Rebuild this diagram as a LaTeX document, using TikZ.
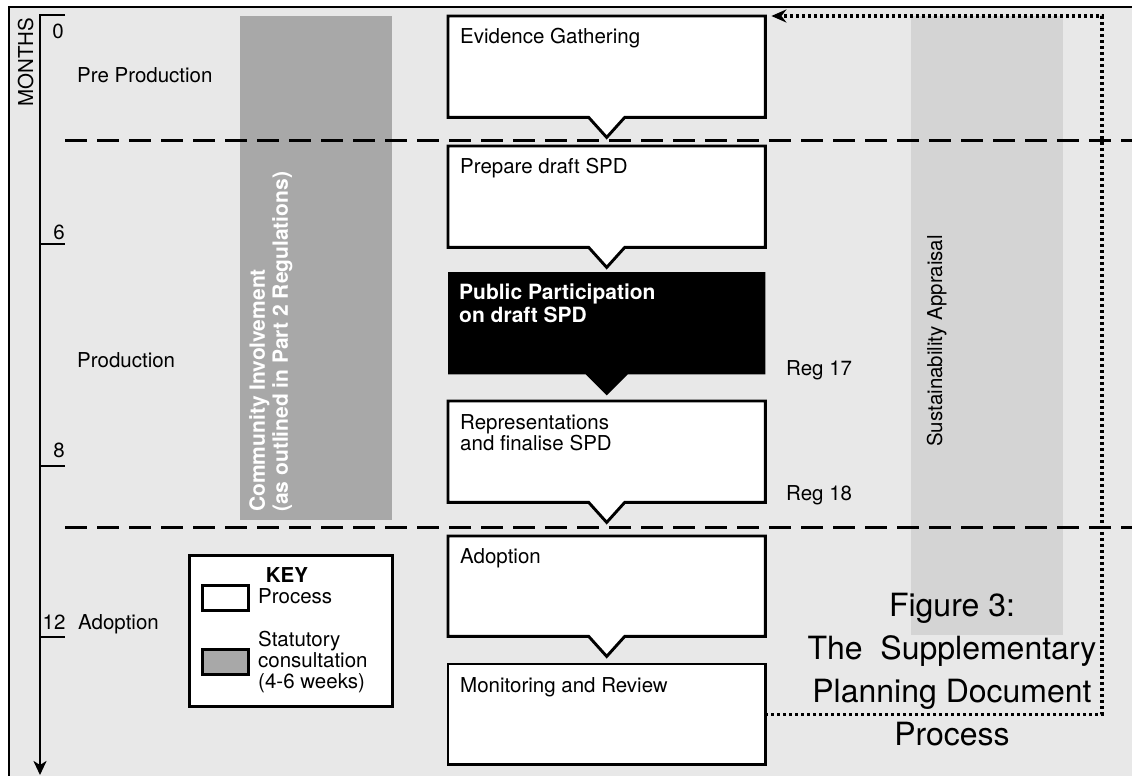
\documentclass[tikz,border=0pt]{standalone}
\usepackage{fontspec}
\setmainfont{TeX Gyre Heros}
\usetikzlibrary{arrows.meta,calc}
\pgfdeclarelayer{bg}
\pgfdeclarelayer{mid}
\pgfsetlayers{bg,mid,main}
\definecolor{panel}{HTML}{E8E8E8}
\definecolor{ciGray}{HTML}{A8A8A8}
\definecolor{saGray}{HTML}{D4D4D4}
\begin{document}
\begin{tikzpicture}[x=1pt,y=-1pt,
  font=\fontsize{20.5}{21.5}\selectfont,
  pbox/.style={rectangle, draw=none, anchor=north west, inner sep=0pt, minimum width=317pt, minimum height=#1},
  ptxt/.style={anchor=north west, inner sep=0pt, align=left},
  bline/.style={line width=2.9pt, line join=miter, draw=black},
  lbl/.style={inner sep=0pt},
  sepline/.style={line width=3pt, dash pattern=on 22pt off 10pt},
  fbline/.style={line width=3.2pt, dash pattern=on 3pt off 3pt, -{Stealth[length=15pt,width=13pt,inset=5pt]}},
  swatch/.style={rectangle, draw, line width=2.9pt, anchor=north west, minimum width=46pt, minimum height=25pt, inner sep=0pt}
]
\useasboundingbox (0,0) rectangle (1132,776);
\clip (0,0) rectangle (1132,776);

% ---------------- background, bars, separators
\begin{pgfonlayer}{bg}
  \fill[white] (0,0) rectangle (1132,776);
  \draw[fill=panel, line width=2.9pt] (9,7) rectangle (1150,800);
  \fill[ciGray] (240,16) rectangle (392,520);
  \fill[saGray] (911,16) rectangle (1063,635);
  \draw[sepline] (65,140) -- (1140,140);
  \draw[sepline] (65,527) -- (1140,527);
\end{pgfonlayer}

% ---------------- time axis
\draw[line width=2.9pt, line join=miter, -{Stealth[length=14pt,width=13pt,inset=4pt]}] (65,15) -- (40,15) -- (40,775);
\draw[line width=2.6pt] (40,244) -- (65,244);
\draw[line width=2.6pt] (40,466) -- (65,466);
\draw[line width=2.6pt] (40,637) -- (65,637);
\node[lbl, rotate=90, anchor=base west] (months) at (33,107) {MONTHS};
\node[lbl, anchor=base] (m0) at (58,38.5) {0};
\node[lbl, anchor=base] (m6) at (59,239) {6};
\node[lbl, anchor=base] (m8) at (59,457) {8};
\node[lbl, anchor=base] (m12) at (54,629) {12};

\node[lbl, anchor=base west] (prepro) at (77,82) {Pre Production};
\node[lbl, anchor=base west] (pro) at (77,367) {Production};
\node[lbl, anchor=base west] (adopt) at (78,629) {Adoption};

% ---------------- bar labels
\node[rotate=90, anchor=north west, inner sep=0pt, align=left, text=white,
      font=\bfseries\fontsize{21}{23}\selectfont] (ci) at (249,512)
      {Community Involvement\\(as outlined in Part 2 Regulations)};
\node[lbl, rotate=90, anchor=base west, font=\fontsize{20.5}{22}\selectfont] (sa) at (942,447) {Sustainability Appraisal};

% ---------------- process boxes
\node[pbox=101pt] (evid) at (448,16) {};
\node[pbox=101pt] (prep) at (448,146) {};
\node[pbox=102pt] (pub)  at (448,272) {};
\node[pbox=101pt] (repr) at (448,401) {};
\node[pbox=100pt] (adop) at (448,536) {};
\node[pbox=100pt] (mon)  at (448,664) {};

\begin{pgfonlayer}{mid}
  \draw[bline, fill=white] (evid.north west) -- (evid.north east) -- (evid.south east)
     -- ([xshift=18pt]evid.south) -- ([yshift=-20pt]evid.south) -- ([xshift=-18pt]evid.south)
     -- (evid.south west) -- cycle;
  \draw[bline, fill=white] (prep.north west) -- (prep.north east) -- (prep.south east)
     -- ([xshift=18pt]prep.south) -- ([yshift=-20pt]prep.south) -- ([xshift=-18pt]prep.south)
     -- (prep.south west) -- cycle;
  \fill[black] (pub.north west) -- (pub.north east) -- (pub.south east)
     -- ([xshift=21pt]pub.south) -- ([yshift=-21pt]pub.south) -- ([xshift=-21pt]pub.south)
     -- (pub.south west) -- cycle;
  \draw[bline, fill=white] (repr.north west) -- (repr.north east) -- (repr.south east)
     -- ([xshift=18pt]repr.south) -- ([yshift=-20pt]repr.south) -- ([xshift=-18pt]repr.south)
     -- (repr.south west) -- cycle;
  \draw[bline, fill=white] (adop.north west) -- (adop.north east) -- (adop.south east)
     -- ([xshift=18pt]adop.south) -- ([yshift=-20pt]adop.south) -- ([xshift=-18pt]adop.south)
     -- (adop.south west) -- cycle;
  \draw[bline, fill=white] (mon.north west) rectangle (mon.south east);
\end{pgfonlayer}

\node[ptxt] (evidT) at ([shift={(12,12)}]evid.north west) {Evidence Gathering};
\node[ptxt] (prepT) at ([shift={(12,12)}]prep.north west) {Prepare draft SPD};
\node[ptxt, text=white, font=\bfseries\fontsize{21}{23}\selectfont] (pubT) at ([shift={(11,12)}]pub.north west) {Public Participation\\on draft SPD};
\node[ptxt] (reprT) at ([shift={(12,13)}]repr.north west) {Representations\\and finalise SPD};
\node[ptxt] (adopT) at ([shift={(12,12)}]adop.north west) {Adoption};
\node[ptxt] (monT) at ([shift={(12,13)}]mon.north west) {Monitoring and Review};

\node[lbl, anchor=base west] (reg17) at (786,375) {Reg 17};
\node[lbl, anchor=base west] (reg18) at (786,500) {Reg 18};

% ---------------- feedback loop
\coordinate (fbc) at (1102,16);
\draw[fbline] (mon.east) -- (mon.east -| fbc) -- (fbc) -- ([xshift=6pt]evid.north east);

% ---------------- key
\node[rectangle, draw, fill=white, line width=2.9pt, anchor=north west, minimum width=203pt, minimum height=151pt, inner sep=0pt] (key) at (188,554) {};
\node[lbl, anchor=base, font=\bfseries\fontsize{20.5}{21.5}\selectfont] (keyT) at (287,582) {KEY};
\node[swatch, fill=white] (sw1) at (201,584) {};
\node[swatch, fill=ciGray] (sw2) at (201,648) {};
\node[lbl, anchor=base west] (sw1T) at (258,603) {Process};
\node[lbl, anchor=north west, align=left, font=\fontsize{20.5}{21}\selectfont] (sw2T) at (258,631) {Statutory\\consultation\\(4-6 weeks)};

% ---------------- caption
\node[inner sep=0pt, anchor=north, align=center, font=\fontsize{32}{43}\selectfont] (cap) at (952,593) {Figure 3:\\The\ \ Supplementary\\Planning Document\\Process};
\end{tikzpicture}
\end{document}
